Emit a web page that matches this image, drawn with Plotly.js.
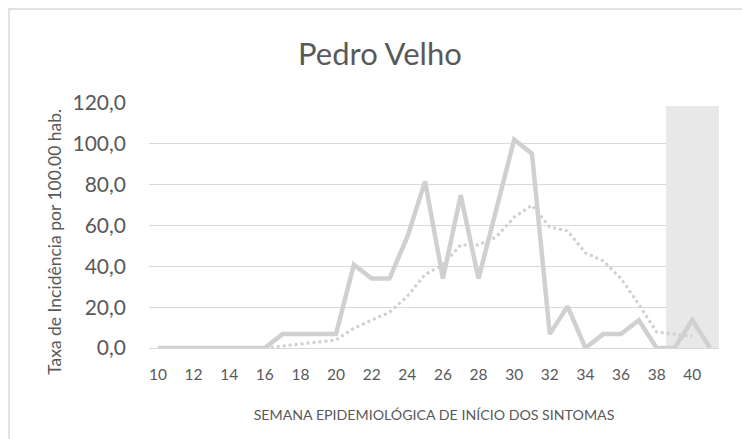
<!DOCTYPE html>
<html>
<head>
<meta charset="utf-8">
<script src="https://cdn.plot.ly/plotly-3.0.1.min.js"></script>
<style>html,body{margin:0;padding:0;background:#fff;}#chart{width:742px;height:439px;}</style>
</head>
<body>
<div id="chart"></div>
<script>
const weeks = [10,11,12,13,14,15,16,17,18,19,20,21,22,23,24,25,26,27,28,29,30,31,32,33,34,35,36,37,38,39,40,41];
const incidence = [0,0,0,0,0,0,0,6.8,6.8,6.8,6.8,40.8,34,34,54.4,81.6,34,74.8,34,68,102,95.2,6.8,20.4,0,6.8,6.8,13.6,0,0,13.6,0];
const movingAvg = [null,null,null,null,null,null,0,1.0,1.9,2.9,3.9,9.7,13.6,17.5,25.3,36.0,40.8,50.5,50.5,54.4,64.1,69.9,59.3,57.3,46.6,42.7,34.0,21.4,7.8,6.8,5.8,null];
const shadedWeeks = [39,40,41];
const shadedHeight = [118.3,118.3,118.3];
const yTicks = [0,20,40,60,80,100,120];
const xTicks = [10,12,14,16,18,20,22,24,26,28,30,32,34,36,38,40];

const font = "Lato, 'Open Sans', sans-serif";
const grey = '#d0d0d0';

const traces = [
  {type:'bar', x: shadedWeeks, y: shadedHeight, width: 1, marker:{color:'#e8e8e8', line:{width:0}}, hoverinfo:'skip', showlegend:false},
  {type:'scatter', mode:'lines', x: weeks, y: incidence, line:{color:grey, width:4.5}, showlegend:false},
  {type:'scatter', mode:'lines', x: weeks, y: movingAvg, line:{color:grey, width:3, dash:'dot'}, showlegend:false, connectgaps:false}
];

const layout = {
  width: 742, height: 439,
  margin: {l:149, r:23, t:103, b:91},
  paper_bgcolor:'#ffffff', plot_bgcolor:'#ffffff',
  separators: ', ',
  font: {family: font, color:'#595959'},
  showlegend: false,
  bargap: 0,
  title: {text:'Pedro Velho', font:{family: font, size:31, color:'#595959'}, x:0.512, xanchor:'center', y:0.877, yanchor:'middle'},
  xaxis: {
    range:[9.5,41.5], tickmode:'array', tickvals: xTicks,
    showgrid:false, zeroline:false, showline:true, linecolor:'#d9d9d9', linewidth:1.3,
    ticks:'', ticklabelstandoff:12, tickfont:{size:15.5, color:'#595959'},
    title:{text:'SEMANA EPIDEMIOLÓGICA DE INÍCIO DOS SINTOMAS', font:{size:14.2, color:'#595959'}, standoff:28}
  },
  yaxis: {
    range:[0,120], tickmode:'array', tickvals: yTicks, tickformat:'.1f',
    showgrid:true, gridcolor:'#d9d9d9', gridwidth:1.3, zeroline:false, showline:false,
    ticks:'', ticklen:0, ticklabelstandoff:22, tickfont:{size:21, color:'#595959'}
  },
  annotations: [
    {text:'Taxa de Incidência por 100.00 hab.', xref:'paper', yref:'paper', x:-0.165, y:0.433, xanchor:'center', yanchor:'middle', textangle:-90, showarrow:false, font:{family: font, size:17.5, color:'#595959'}}
  ],
  shapes: [
    {type:'rect', xref:'paper', yref:'paper', x0:-0.2456, x1:1.2, y0:-0.6, y1:1.384, line:{color:'#d9d9d9', width:1.5}, fillcolor:'rgba(0,0,0,0)', layer:'below'}
  ]
};

Plotly.newPlot('chart', traces, layout, {staticPlot:true, displayModeBar:false});
</script>
</body>
</html>
